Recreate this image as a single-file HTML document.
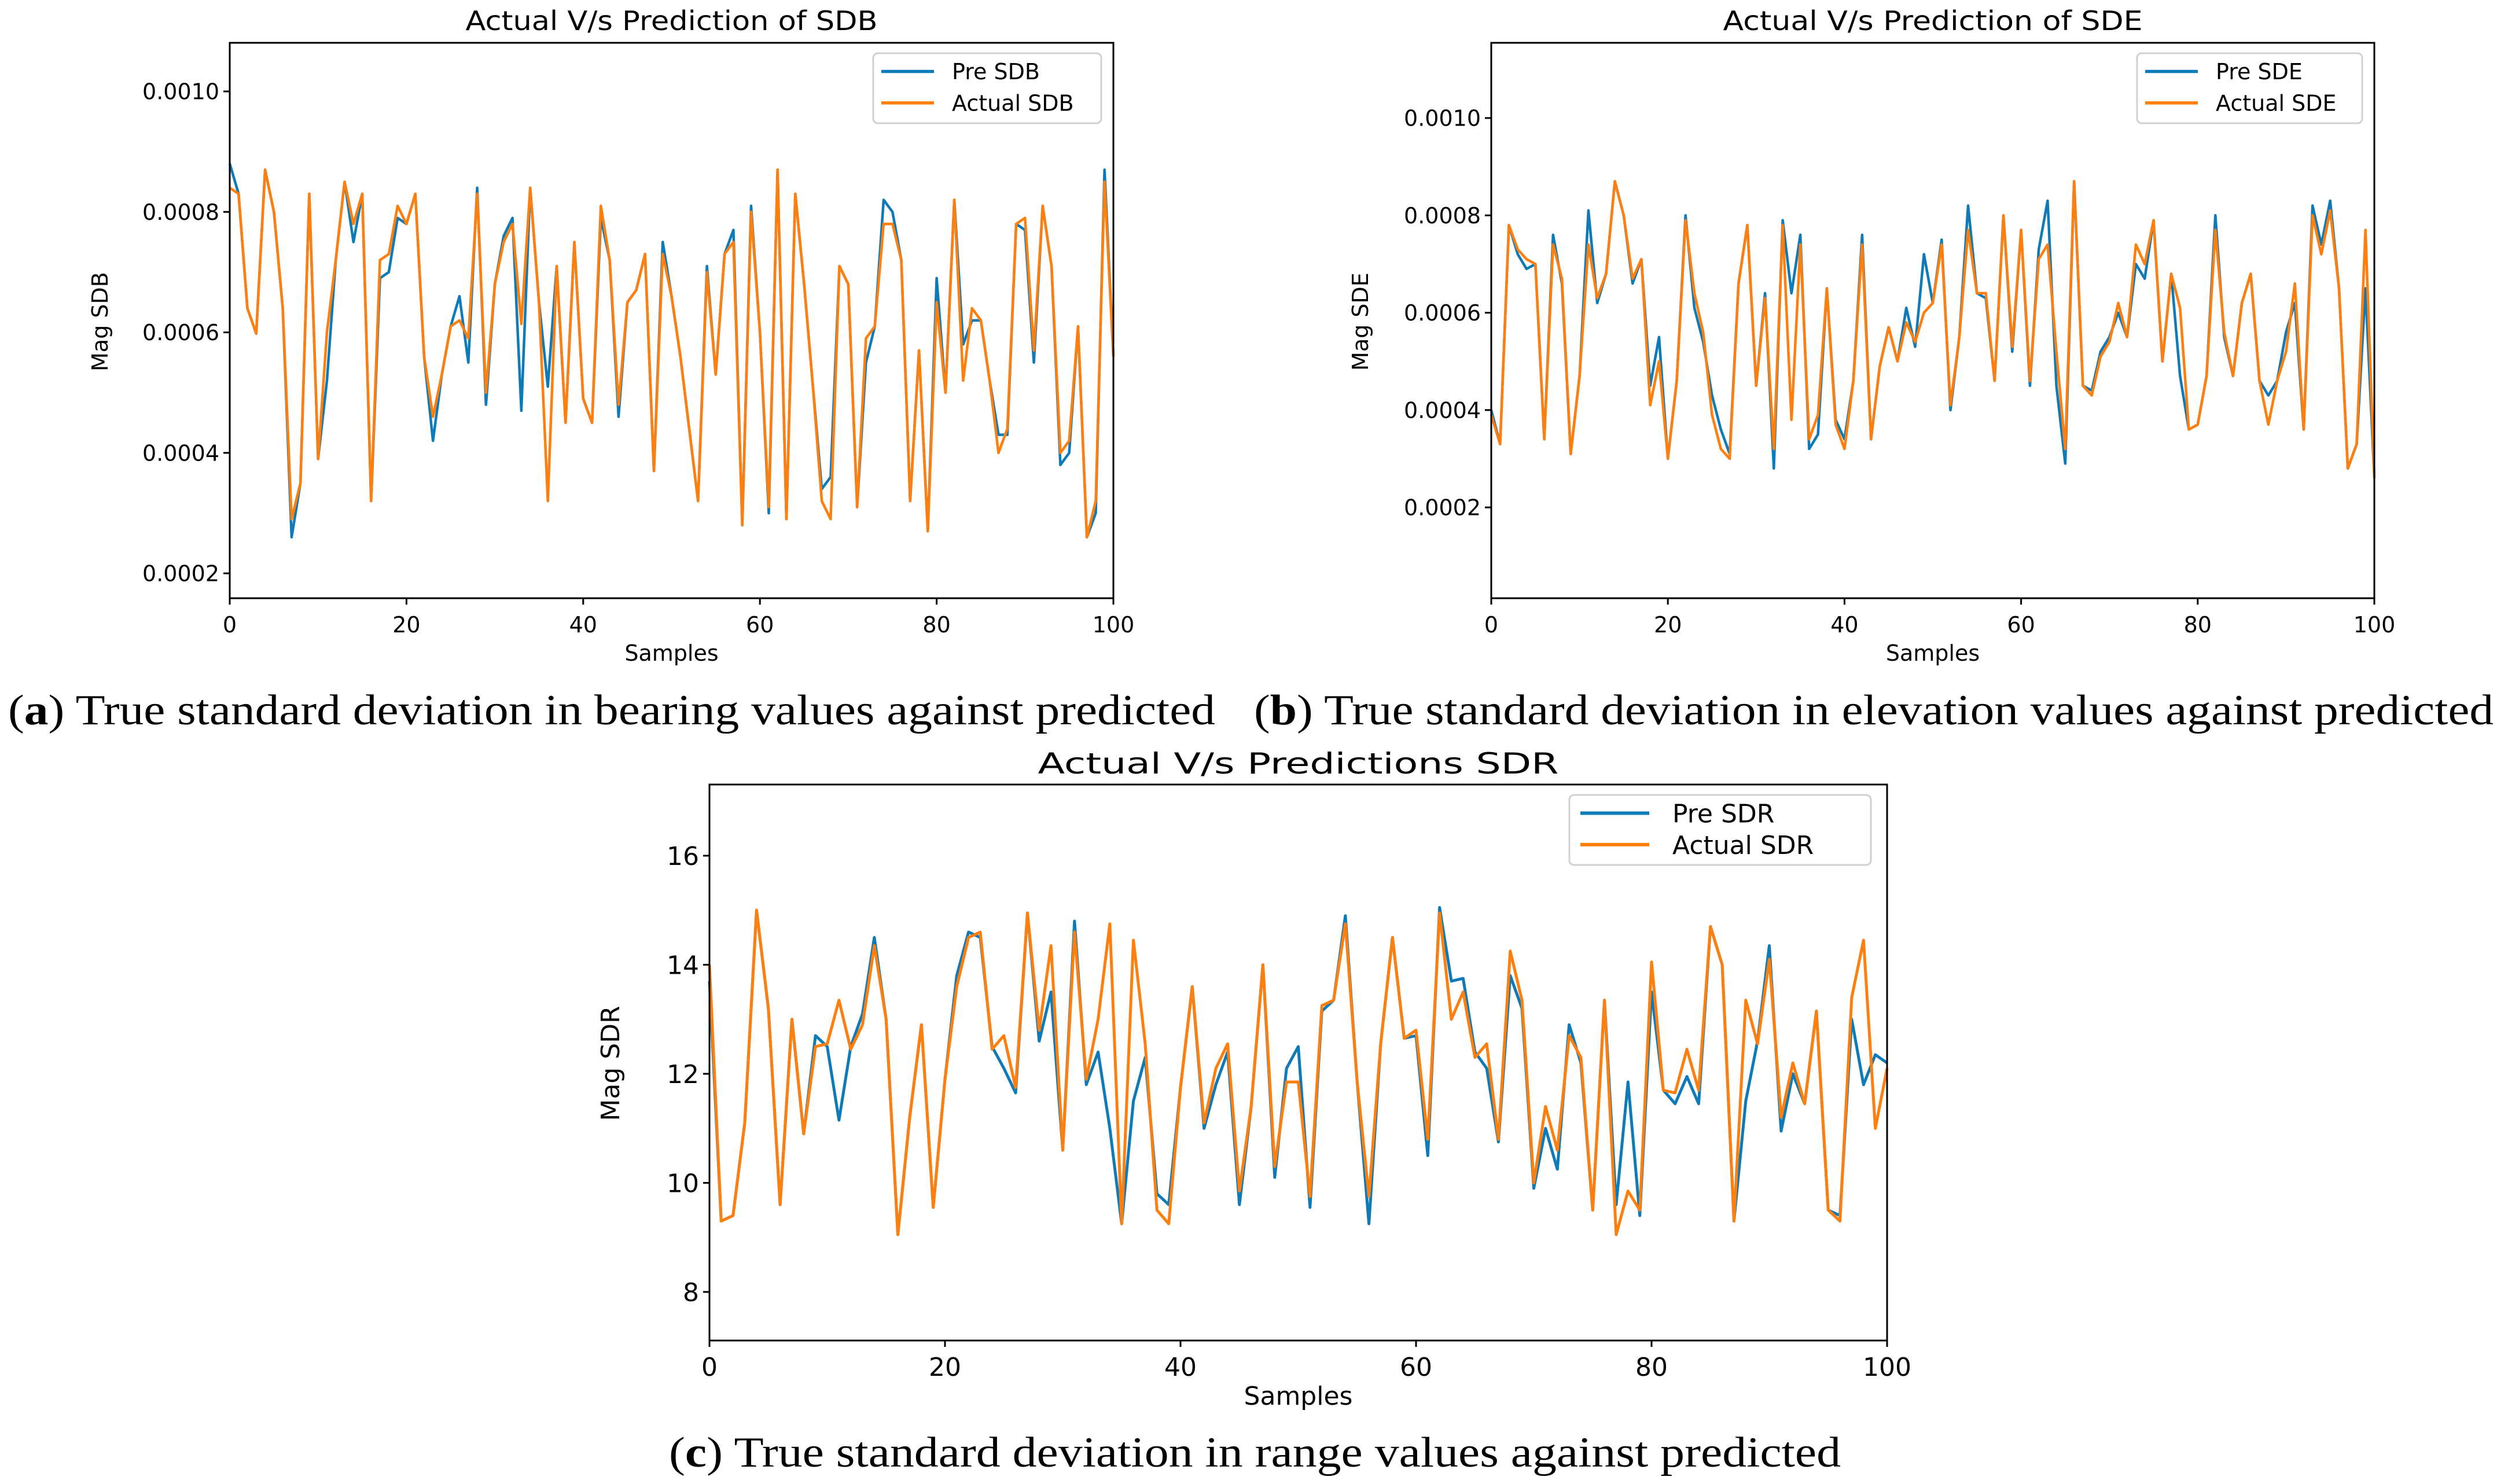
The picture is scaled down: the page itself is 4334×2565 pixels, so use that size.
<!DOCTYPE html>
<html><head><meta charset="utf-8"><style>
html,body{margin:0;padding:0;background:#fff;}
svg{display:block;}
text{font-family:"DejaVu Sans","Liberation Sans",sans-serif;fill:#000;}
.cap{font-family:"Liberation Serif",serif;}
</style></head><body>
<svg id="fig" width="4334" height="2565" viewBox="0 0 4334 2565" xmlns="http://www.w3.org/2000/svg"></svg>
<script>
const samples = Array.from({length:101},(_,i)=>i);
const xTicks = [0,20,40,60,80,100];
const sdbTicks = [0.0002,0.0004,0.0006,0.0008,0.0010];
const sdeTicks = [0.0002,0.0004,0.0006,0.0008,0.0010];
const sdrTicks = [8,10,12,14,16];

const sdbActual = [0.00084,0.00083,0.00064,0.000598,0.00087,0.0008,0.00064,0.00029,0.00035,0.00083,0.00039,0.0006,0.00072,0.00085,0.00078,0.00083,0.00032,0.00072,0.00073,0.00081,0.00078,0.00083,0.00056,0.00046,0.00053,0.00061,0.00062,0.00059,0.00083,0.0005,0.00068,0.00075,0.00078,0.000614,0.00084,0.00065,0.00032,0.00071,0.00045,0.00075,0.00049,0.00045,0.00081,0.00072,0.00048,0.00065,0.00067,0.00073,0.00037,0.00073,0.00066,0.00056,0.00044,0.00032,0.0007,0.00053,0.00073,0.00075,0.00028,0.0008,0.0006,0.00031,0.00087,0.00029,0.00083,0.00068,0.00051,0.00032,0.00029,0.00071,0.00068,0.00031,0.00059,0.00061,0.00078,0.00078,0.00072,0.00032,0.00057,0.00027,0.00065,0.0005,0.00082,0.00052,0.00064,0.00062,0.00052,0.0004,0.00044,0.00078,0.00079,0.00057,0.00081,0.00071,0.0004,0.00042,0.00061,0.00026,0.00032,0.00085,0.00056];
const sdbPred = [0.00088,0.00083,0.00064,0.000598,0.00087,0.0008,0.00064,0.00026,0.00035,0.00083,0.00039,0.00052,0.00072,0.00085,0.00075,0.00083,0.00032,0.00069,0.0007,0.00079,0.00078,0.00083,0.00056,0.00042,0.00053,0.00061,0.00066,0.00055,0.00084,0.00048,0.00068,0.00076,0.00079,0.00047,0.00084,0.00065,0.00051,0.00071,0.00045,0.00075,0.00049,0.00045,0.00079,0.00072,0.00046,0.00065,0.00067,0.00073,0.00037,0.00075,0.00066,0.00056,0.00044,0.00032,0.00071,0.00053,0.00073,0.00077,0.00028,0.00081,0.0006,0.0003,0.00087,0.00029,0.00083,0.00068,0.00051,0.00034,0.00036,0.00071,0.00068,0.00031,0.00055,0.00061,0.00082,0.0008,0.00072,0.00032,0.00057,0.00027,0.00069,0.0005,0.00082,0.00058,0.00062,0.00062,0.00052,0.00043,0.00043,0.00078,0.00077,0.00055,0.00081,0.00071,0.00038,0.0004,0.00061,0.00026,0.0003,0.00087,0.00056];

const sdeActual = [0.00039,0.00033,0.00078,0.00073,0.00071,0.0007,0.00034,0.00074,0.00067,0.00031,0.00047,0.00074,0.00063,0.00068,0.00087,0.0008,0.00067,0.00071,0.00041,0.0005,0.0003,0.00046,0.00079,0.00064,0.00056,0.00039,0.00032,0.0003,0.00066,0.00078,0.00045,0.00063,0.00032,0.00078,0.00038,0.00074,0.00034,0.00039,0.00065,0.00037,0.00032,0.00046,0.00074,0.00034,0.00049,0.00057,0.0005,0.00058,0.00054,0.0006,0.00062,0.00074,0.00041,0.00055,0.00077,0.00064,0.00064,0.00046,0.0008,0.00053,0.00077,0.00046,0.00071,0.00074,0.00052,0.00032,0.00087,0.00045,0.00043,0.00051,0.00054,0.00062,0.00055,0.00074,0.0007,0.00079,0.0005,0.00068,0.00061,0.00036,0.00037,0.00047,0.00077,0.00056,0.00047,0.00062,0.00068,0.00046,0.00037,0.00046,0.00052,0.00066,0.00036,0.0008,0.00072,0.00081,0.00065,0.00028,0.00033,0.00077,0.00026];
const sdePred = [0.0004,0.00033,0.00078,0.00072,0.00069,0.0007,0.00034,0.00076,0.00066,0.00031,0.00047,0.00081,0.00062,0.00068,0.00087,0.0008,0.00066,0.00071,0.00045,0.00055,0.0003,0.00046,0.0008,0.00061,0.00054,0.00043,0.00036,0.00031,0.00066,0.00078,0.00045,0.00064,0.00028,0.00079,0.00064,0.00076,0.00032,0.00035,0.00065,0.00038,0.00034,0.00046,0.00076,0.00034,0.00049,0.00057,0.0005,0.00061,0.00053,0.00072,0.00062,0.00075,0.0004,0.00055,0.00082,0.00064,0.00063,0.00046,0.0008,0.00052,0.00077,0.00045,0.00073,0.00083,0.00045,0.00029,0.00087,0.00045,0.00044,0.00052,0.00055,0.0006,0.00055,0.0007,0.00067,0.00079,0.0005,0.00068,0.00047,0.00036,0.00037,0.00047,0.0008,0.00055,0.00047,0.00062,0.00068,0.00046,0.00043,0.00046,0.00056,0.00062,0.00036,0.00082,0.00074,0.00083,0.00065,0.00028,0.00033,0.00065,0.00026];

const sdrActual = [14.0,9.3,9.4,11.1,15.0,13.2,9.6,13.0,10.9,12.5,12.55,13.35,12.45,12.9,14.35,13.0,9.05,11.2,12.9,9.55,11.9,13.6,14.5,14.6,12.45,12.7,11.75,14.95,12.8,14.35,10.6,14.6,11.9,13.0,14.75,9.25,14.45,12.55,9.5,9.25,11.75,13.6,11.1,12.1,12.55,9.85,11.4,14.0,10.3,11.85,11.85,9.75,13.25,13.35,14.75,11.85,9.75,12.55,14.5,12.65,12.8,10.8,14.95,13.0,13.5,12.3,12.55,10.8,14.25,13.35,10.0,11.4,10.6,12.7,12.3,9.5,13.35,9.05,9.85,9.5,14.05,11.7,11.65,12.45,11.7,14.7,14.0,9.3,13.35,12.55,14.1,11.2,12.2,11.45,13.15,9.5,9.3,13.4,14.45,11.0,12.1];
const sdrPred = [13.7,9.3,9.4,11.1,15.0,13.2,9.6,13.0,10.9,12.7,12.5,11.15,12.5,13.1,14.5,13.0,9.05,11.2,12.9,9.55,11.9,13.8,14.6,14.5,12.5,12.1,11.65,14.95,12.6,13.5,10.6,14.8,11.8,12.4,11.0,9.25,11.5,12.3,9.8,9.6,11.75,13.6,11.0,11.8,12.4,9.6,11.4,14.0,10.1,12.1,12.5,9.55,13.15,13.35,14.9,11.85,9.25,12.55,14.5,12.65,12.7,10.5,15.05,13.7,13.75,12.4,12.1,10.75,13.8,13.2,9.9,11.0,10.25,12.9,12.2,9.5,13.35,9.6,11.85,9.4,13.5,11.7,11.45,11.95,11.45,14.7,14.0,9.3,11.5,12.6,14.35,10.95,12.0,11.45,13.15,9.5,9.4,13.0,11.8,12.35,12.2];

const NS='http://www.w3.org/2000/svg';
const svg=document.getElementById('fig');
function el(tag,attrs,parent,txt){const e=document.createElementNS(NS,tag);for(const k in attrs)e.setAttribute(k,attrs[k]);if(txt!==undefined)e.textContent=txt;(parent||svg).appendChild(e);return e;}

function chart(c){
  const g=el('g',{});
  
  
  const xs=v=>c.L+(v-0)/100*(c.R-c.L);
  const ys=v=>c.y0+(c.t0-v)/(c.t1-c.t0)*(c.y1-c.y0);
  // note: y0 is pixel for t0 (top tick), y1 pixel for t1 (bottom tick) -> handled with ranges
  const yscale=v=>c.pyTop+(c.vTop-v)/(c.vTop-c.vBot)*(c.pyBot-c.pyTop);
  // title
  const tt=el('text',{x:(c.L+c.R)/2,y:c.titleY,'font-size':c.tfs,'text-anchor':'middle',textLength:c.titleW,lengthAdjust:'spacingAndGlyphs'},g,c.title);
  
  
  // series
  [[c.pred,'#0f7ab8','pred-line'],[c.act,'#ff7f0e','actual-line']].forEach(([arr,col,nm])=>{
    const pts=arr.map((v,i)=>xs(samples[i]).toFixed(1)+','+yscale(v).toFixed(1)).join(' ');
    const p=el('polyline',{points:pts,fill:'none',stroke:col,'stroke-width':c.lw,'stroke-linejoin':'round'},g);
    
    
  });
  // frame
  const fr=el('rect',{x:c.L,y:c.T,width:c.R-c.L,height:c.B-c.T,fill:'none',stroke:'#000','stroke-width':3},g);
  
  
  // x ticks
  xTicks.forEach(v=>{
    const x=xs(v);
    el('line',{x1:x,y1:c.B,x2:x,y2:c.B+11,stroke:'#000','stroke-width':3},g);
    const t=el('text',{x:x,y:c.xtY,'font-size':c.fs,'text-anchor':'middle'},g,String(v));
    
    
  });
  c.ticks.forEach(v=>{
    const y=yscale(v);
    el('line',{x1:c.L-11,y1:y,x2:c.L,y2:y,stroke:'#000','stroke-width':3},g);
    const t=el('text',{x:c.L-18,y:y+c.fs*0.36,'font-size':c.fs,'text-anchor':'end'},g,c.fmt(v));
    
    
  });
  const xl=el('text',{x:(c.L+c.R)/2,y:c.xlY,'font-size':c.fs,'text-anchor':'middle'},g,'Samples');
  
  
  const yl=el('text',{x:c.ylX,y:c.ylY,'font-size':c.fs,'text-anchor':'middle',transform:`rotate(-90 ${c.ylX} ${c.ylY})`},g,c.ylabel);
  
  
  // legend
  const lg=el('g',{},g);
  
  
  el('rect',{x:c.lx,y:c.ly,width:c.lw2,height:c.lh,rx:8,fill:'#fff',stroke:'#d0d0d0','stroke-width':3},lg);
  [[c.lab1,'#0f7ab8'],[c.lab2,'#ff7f0e']].forEach(([lab,col],k)=>{
    const yy=c.ly+c.lh*(k===0?0.26:0.71);
    el('line',{x1:c.lx+c.lpad,y1:yy,x2:c.lx+c.lpad+c.llen,y2:yy,stroke:col,'stroke-width':c.lw+1},lg);
    const t=el('text',{x:c.lx+c.lpad+c.llen+c.lgap,y:yy+c.fs*0.36,'font-size':c.fs},lg,lab);
    
    
  });
}
const f4=v=>v.toFixed(4);
chart({name:'chart-sdb',title:'Actual V/s Prediction of SDB',titleY:52,titleW:712,tfs:46,L:397,R:1924,T:74,B:1034,
  pyTop:158,vTop:0.0010,pyBot:991,vBot:0.0002,pred:sdbPred,act:sdbActual,ticks:sdbTicks,fmt:f4,fs:38,lw:4.5,
  xtY:1093,xlY:1142,ylX:186,ylY:556,ylabel:'Mag SDB',lx:1509,ly:92,lw2:394,lh:121,lpad:14,llen:91,lgap:31,lab1:'Pre SDB',lab2:'Actual SDB'});
chart({name:'chart-sde',title:'Actual V/s Prediction of SDE',titleY:52,titleW:725,tfs:46,L:2577,R:4103,T:74,B:1034,
  pyTop:204,vTop:0.0010,pyBot:877,vBot:0.0002,pred:sdePred,act:sdeActual,ticks:sdeTicks,fmt:f4,fs:38,lw:4.5,
  xtY:1093,xlY:1142,ylX:2364,ylY:556,ylabel:'Mag SDE',lx:3693,ly:92,lw2:389,lh:121,lpad:14,llen:91,lgap:31,lab1:'Pre SDE',lab2:'Actual SDE'});
chart({name:'chart-sdr',title:'Actual V/s Predictions SDR',titleY:1337,titleW:900,tfs:50,L:1226,R:3261,T:1356,B:2317,
  pyTop:1479,vTop:16,pyBot:2233,vBot:8,pred:sdrPred,act:sdrActual,ticks:sdrTicks,fmt:v=>String(v),fs:44,lw:5,
  xtY:2378,xlY:2428,ylX:1070,ylY:1838,ylabel:'Mag SDR',lx:2712,ly:1374,lw2:521,lh:121,lpad:19,llen:119,lgap:40,lab1:'Pre SDR',lab2:'Actual SDR'});

// captions
[[14,1252,2086,'a',' True standard deviation in bearing values against predicted','caption-a'],
 [2167,1252,2142,'b',' True standard deviation in elevation values against predicted','caption-b'],
 [1156,2535,2025,'c',' True standard deviation in range values against predicted','caption-c']].forEach(([x,y,w,l,rest,nm])=>{
  const t=el('text',{x:x,y:y,'font-size':74,class:'cap',textLength:w,lengthAdjust:'spacingAndGlyphs'});
  
  
  el('tspan',{},t,'(');
  el('tspan',{'font-weight':'bold'},t,l);
  el('tspan',{},t,')'+rest);
});
</script>
</body></html>
